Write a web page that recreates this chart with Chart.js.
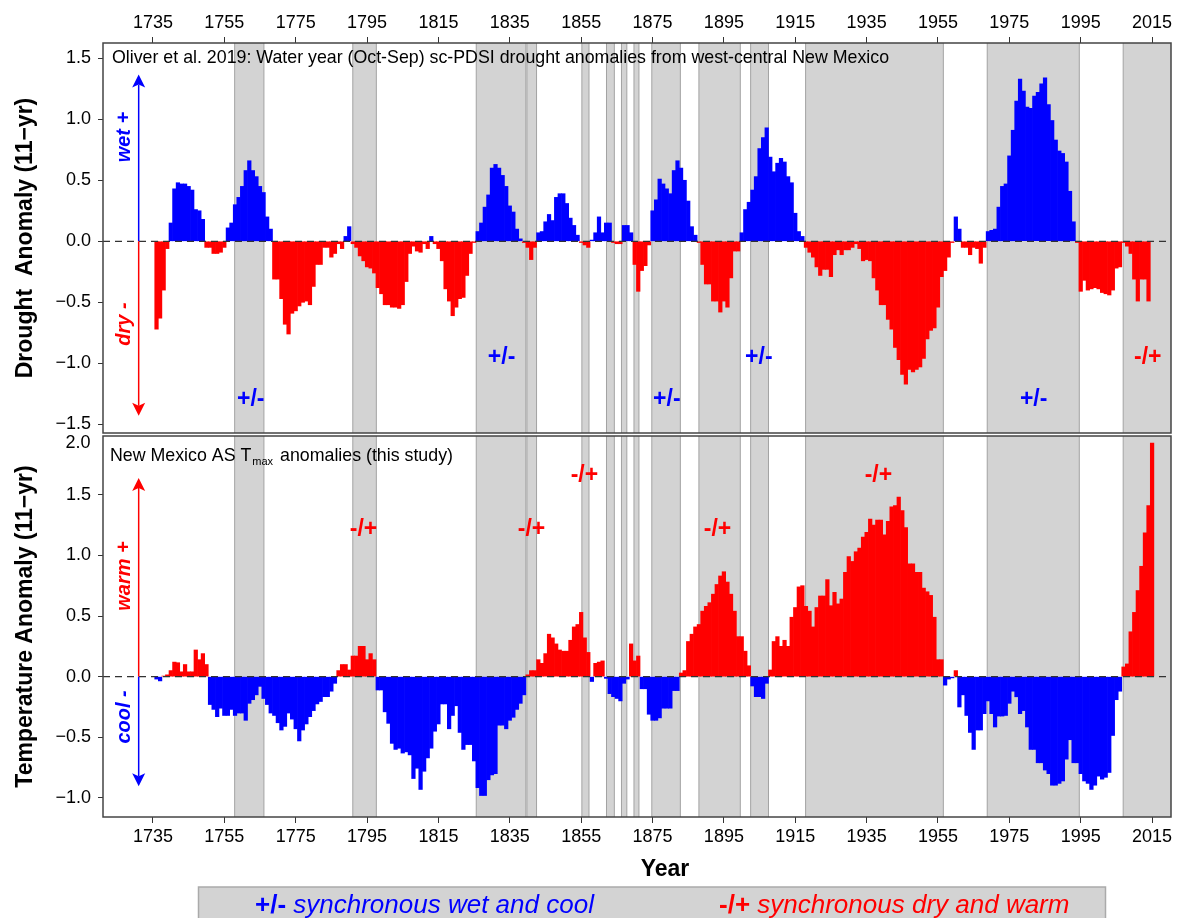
<!DOCTYPE html>
<html>
<head>
<meta charset="utf-8">
<title>New Mexico drought and temperature anomalies</title>
<script src="https://cdn.jsdelivr.net/npm/chart.js@4.4.1/dist/chart.umd.min.js"></script>
<style>
  html, body { margin: 0; padding: 0; background: #fff; }
  #wrap { position: relative; width: 1177px; height: 918px; overflow: hidden; }
  #wrap canvas { position: absolute; left: 0; }
  #topChart { top: 0; }
  #botChart { top: 434px; }
</style>
</head>
<body>
<div id="wrap">
  <canvas id="topChart" width="1177" height="434"></canvas>
  <canvas id="botChart" width="1177" height="484"></canvas>
</div>
<script>
// ==========================================
// 1. DATA
// ==========================================
const firstYear = 1736;

// 11-yr sc-PDSI anomalies, 1736-2014
const droughtValues = [
  -0.72, -0.63, -0.40, -0.06, 0.15, 0.43, 0.48, 0.47, 0.47, 0.45,
  0.42, 0.26, 0.25, 0.18, -0.05, -0.05, -0.10, -0.10, -0.09, -0.05,
  0.11, 0.15, 0.30, 0.36, 0.45, 0.58, 0.66, 0.58, 0.53, 0.45,
  0.40, 0.20, 0.10, -0.31, -0.31, -0.47, -0.68, -0.76, -0.59, -0.57,
  -0.53, -0.50, -0.49, -0.52, -0.37, -0.19, -0.19, -0.05, -0.05, -0.13,
  -0.10, -0.02, -0.06, 0.04, 0.12, -0.02, -0.05, -0.12, -0.16, -0.21,
  -0.22, -0.26, -0.38, -0.43, -0.52, -0.52, -0.54, -0.54, -0.55, -0.52,
  -0.33, -0.10, -0.04, -0.08, -0.09, -0.02, -0.06, 0.04, -0.02, -0.06,
  -0.16, -0.39, -0.49, -0.61, -0.54, -0.47, -0.46, -0.28, -0.10, -0.01,
  0.08, 0.15, 0.28, 0.38, 0.60, 0.63, 0.60, 0.54, 0.45, 0.29,
  0.24, 0.10, 0.02, -0.01, -0.05, -0.15, -0.05, 0.07, 0.08, 0.16,
  0.22, 0.17, 0.36, 0.39, 0.39, 0.31, 0.19, 0.13, 0.05, -0.01,
  -0.03, -0.05, 0.01, 0.07, 0.20, 0.07, 0.15, 0.15, -0.01, -0.02,
  -0.02, 0.13, 0.13, 0.07, -0.19, -0.41, -0.24, -0.20, -0.03, 0.25,
  0.34, 0.51, 0.47, 0.43, 0.39, 0.58, 0.66, 0.60, 0.50, 0.33,
  0.12, 0.05, -0.01, -0.19, -0.35, -0.35, -0.49, -0.49, -0.58, -0.49,
  -0.54, -0.30, -0.08, -0.08, 0.07, 0.26, 0.32, 0.42, 0.53, 0.76,
  0.85, 0.93, 0.69, 0.57, 0.64, 0.68, 0.65, 0.53, 0.48, 0.23,
  0.08, 0.04, -0.05, -0.09, -0.13, -0.21, -0.28, -0.23, -0.23, -0.29,
  -0.11, -0.07, -0.11, -0.07, -0.07, -0.05, -0.02, -0.06, -0.16, -0.15,
  -0.16, -0.30, -0.40, -0.52, -0.52, -0.64, -0.72, -0.87, -0.97, -1.09,
  -1.17, -1.05, -1.07, -1.05, -1.03, -0.96, -0.80, -0.73, -0.71, -0.54,
  -0.29, -0.24, -0.13, -0.01, 0.20, 0.10, -0.05, -0.05, -0.11, -0.05,
  -0.06, -0.18, -0.05, 0.08, 0.09, 0.10, 0.28, 0.45, 0.47, 0.70,
  0.91, 1.15, 1.33, 1.23, 1.10, 1.09, 1.19, 1.22, 1.29, 1.34,
  1.12, 0.99, 0.83, 0.74, 0.72, 0.65, 0.41, 0.16, -0.01, -0.41,
  -0.32, -0.40, -0.39, -0.38, -0.39, -0.42, -0.43, -0.44, -0.40, -0.22,
  -0.21, -0.01, -0.04, -0.10, -0.31, -0.49, -0.31, -0.31, -0.49
];

// 11-yr AS Tmax anomalies, 1736-2015
const tempValues = [
  -0.02, -0.035, 0.005, 0.015, 0.05, 0.12, 0.115, 0.04, 0.10, 0.04,
  0.04, 0.22, 0.14, 0.19, 0.10, -0.23, -0.27, -0.33, -0.26, -0.32,
  -0.32, -0.27, -0.32, -0.30, -0.30, -0.36, -0.22, -0.19, -0.15, -0.08,
  -0.18, -0.23, -0.30, -0.32, -0.38, -0.44, -0.41, -0.30, -0.35, -0.43,
  -0.53, -0.44, -0.39, -0.33, -0.28, -0.225, -0.205, -0.165, -0.165, -0.12,
  -0.055, 0.05, 0.10, 0.10, 0.055, 0.17, 0.17, 0.25, 0.25, 0.14,
  0.19, 0.14, -0.11, -0.11, -0.29, -0.385, -0.55, -0.60, -0.59, -0.63,
  -0.62, -0.645, -0.84, -0.755, -0.93, -0.78, -0.67, -0.59, -0.45, -0.39,
  -0.225, -0.225, -0.43, -0.32, -0.24, -0.46, -0.60, -0.56, -0.56, -0.695,
  -0.915, -0.98, -0.98, -0.85, -0.81, -0.80, -0.40, -0.40, -0.43, -0.36,
  -0.335, -0.27, -0.22, -0.15, 0.015, 0.05, 0.05, 0.14, 0.11, 0.19,
  0.35, 0.32, 0.27, 0.22, 0.21, 0.21, 0.30, 0.41, 0.43, 0.53,
  0.32, 0.20, -0.04, 0.11, 0.12, 0.13, -0.014, -0.14, -0.165, -0.18,
  -0.20, -0.055, -0.02, 0.27, 0.13, 0.17, -0.10, -0.10, -0.31, -0.36,
  -0.36, -0.34, -0.26, -0.26, -0.26, -0.115, -0.115, 0.03, 0.05, 0.29,
  0.35, 0.41, 0.43, 0.54, 0.58, 0.61, 0.68, 0.76, 0.83, 0.865,
  0.78, 0.68, 0.54, 0.33, 0.33, 0.21, 0.09, -0.077, -0.165, -0.165,
  -0.18, -0.055, 0.055, 0.29, 0.33, 0.25, 0.30, 0.25, 0.49, 0.57,
  0.74, 0.75, 0.58, 0.54, 0.41, 0.57, 0.665, 0.665, 0.80, 0.585,
  0.695, 0.60, 0.64, 0.86, 0.99, 0.95, 1.03, 1.06, 1.15, 1.19,
  1.30, 1.25, 1.29, 1.29, 1.17, 1.28, 1.40, 1.41, 1.48, 1.37,
  1.23, 0.93, 0.93, 0.86, 0.86, 0.73, 0.70, 0.67, 0.49, 0.14,
  0.14, -0.07, -0.02, -0.01, 0.05, -0.25, -0.15, -0.32, -0.46, -0.60,
  -0.44, -0.44, -0.305, -0.20, -0.305, -0.415, -0.325, -0.325, -0.32, -0.22,
  -0.12, -0.166, -0.305, -0.28, -0.415, -0.60, -0.60, -0.71, -0.71, -0.77,
  -0.80, -0.895, -0.895, -0.88, -0.86, -0.68, -0.52, -0.71, -0.71, -0.80,
  -0.86, -0.88, -0.93, -0.895, -0.82, -0.845, -0.83, -0.79, -0.485, -0.19,
  -0.12, 0.08, 0.105, 0.37, 0.53, 0.71, 0.91, 1.185, 1.41, 1.925
];

// synchronous periods (start year, end year)
const bandStarts = [1757.9, 1791.0, 1825.6, 1839.8, 1855.2, 1862.1, 1866.3, 1869.8, 1874.8, 1888.0, 1902.5, 1917.9, 1968.8, 2006.9];
const bandEnds   = [1766.1, 1797.6, 1839.5, 1842.5, 1857.2, 1864.3, 1867.8, 1871.2, 1882.8, 1899.6, 1907.5, 1956.5, 1994.6, 2021.0];

const yearTicks = [1735, 1755, 1775, 1795, 1815, 1835, 1855, 1875, 1895, 1915, 1935, 1955, 1975, 1995, 2015];
const droughtTicks = [-1.5, -1.0, -0.5, 0.0, 0.5, 1.0, 1.5];
const tempTicks = [-1.0, -0.5, 0.0, 0.5, 1.0, 1.5];

// period labels: year, anomaly value, text
const droughtNotes = [
  [1762.4, -1.30, '+/-'], [1832.7, -0.95, '+/-'], [1879.0, -1.30, '+/-'],
  [1904.8, -0.95, '+/-'], [1981.8, -1.30, '+/-'], [2013.8, -0.95, '-/+']
];
const tempNotes = [
  [1794.0, 1.21, '-/+'], [1841.1, 1.21, '-/+'], [1855.9, 1.655, '-/+'],
  [1893.2, 1.21, '-/+'], [1938.3, 1.655, '-/+']
];

// ==========================================
// 2. STYLE HELPERS
// ==========================================
const BLUE = '#0000ff';
const RED = '#ff0000';
const FONT = "'Liberation Sans', Arial, Helvetica, sans-serif";
Chart.defaults.font.family = FONT;
Chart.defaults.color = '#000';

const fmtTick = v => (v < 0 ? '\u2212' : '') + Math.abs(v).toFixed(1);

const bandPlugin = {
  id: 'bands',
  beforeDatasetsDraw(chart) {
    const { ctx, chartArea: a, scales: { x } } = chart;
    ctx.save();
    ctx.beginPath();
    ctx.rect(a.left, a.top, a.right - a.left, a.bottom - a.top);
    ctx.clip();
    bandStarts.forEach((s, i) => {
      const x0 = x.getPixelForValue(s);
      const x1 = x.getPixelForValue(bandEnds[i]);
      ctx.fillStyle = '#d3d3d3';
      ctx.fillRect(x0, a.top, x1 - x0, a.bottom - a.top);
      ctx.strokeStyle = '#a3a3a3';
      ctx.lineWidth = 1;
      ctx.beginPath();
      ctx.moveTo(x0, a.top); ctx.lineTo(x0, a.bottom);
      ctx.moveTo(x1, a.top); ctx.lineTo(x1, a.bottom);
      ctx.stroke();
    });
    ctx.restore();
  }
};

const zeroFramePlugin = {
  id: 'zeroFrame',
  afterDatasetsDraw(chart) {
    const { ctx, chartArea: a, scales: { y } } = chart;
    const y0 = y.getPixelForValue(0);
    ctx.save();
    ctx.strokeStyle = '#333';
    ctx.lineWidth = 1.3;
    ctx.setLineDash([7, 5]);
    ctx.beginPath();
    ctx.moveTo(a.left, y0); ctx.lineTo(a.right, y0);
    ctx.stroke();
    ctx.setLineDash([]);
    ctx.strokeStyle = '#444';
    ctx.lineWidth = 1.5;
    ctx.strokeRect(a.left, a.top, a.right - a.left, a.bottom - a.top);
    ctx.restore();
  }
};

function drawArrow(ctx, x, yFrom, yTo, color) {
  const dir = yTo < yFrom ? -1 : 1;
  ctx.strokeStyle = color;
  ctx.fillStyle = color;
  ctx.lineWidth = 1.5;
  ctx.beginPath();
  ctx.moveTo(x, yFrom); ctx.lineTo(x, yTo - dir * 10);
  ctx.stroke();
  ctx.beginPath();
  ctx.moveTo(x, yTo);
  ctx.lineTo(x - 6.5, yTo - dir * 13);
  ctx.lineTo(x, yTo - dir * 10);
  ctx.lineTo(x + 6.5, yTo - dir * 13);
  ctx.closePath();
  ctx.fill();
}

function drawVertical(ctx, text, x, y, color) {
  ctx.save();
  ctx.translate(x, y);
  ctx.rotate(-Math.PI / 2);
  ctx.fillStyle = color;
  ctx.font = 'italic bold 20px ' + FONT;
  ctx.textAlign = 'center';
  ctx.textBaseline = 'middle';
  ctx.fillText(text, 0, 0);
  ctx.restore();
}

function makeDecorPlugin(opts) {
  return {
    id: 'decor',
    afterDraw(chart) {
      const { ctx, scales: { x, y } } = chart;
      ctx.save();
      // direction arrows
      const ax = x.getPixelForValue(1731);
      const y0 = y.getPixelForValue(0);
      drawArrow(ctx, ax, y0, y.getPixelForValue(opts.upTo), opts.upColor);
      drawArrow(ctx, ax, y0, y.getPixelForValue(opts.downTo), opts.downColor);
      const tx = x.getPixelForValue(1727.1);
      drawVertical(ctx, opts.upText, tx, y.getPixelForValue(opts.upTextAt), opts.upColor);
      drawVertical(ctx, opts.downText, tx, y.getPixelForValue(opts.downTextAt), opts.downColor);

      // period labels
      ctx.font = 'bold 23px ' + FONT;
      ctx.textAlign = 'center';
      ctx.textBaseline = 'middle';
      opts.notes.forEach(([yr, v, t]) => {
        ctx.fillStyle = t === '+/-' ? BLUE : RED;
        ctx.fillText(t, x.getPixelForValue(yr), y.getPixelForValue(v));
      });

      opts.header(ctx, chart);
      ctx.restore();
    }
  };
}

const barDataset = (values, posColor, negColor) => ({
  data: values.map((v, i) => ({ x: firstYear + i, y: v })),
  backgroundColor: c => (c.raw && c.raw.y >= 0 ? posColor : negColor),
  borderWidth: 0,
  barPercentage: 1,
  categoryPercentage: 1
});

// scales keep fixed sizes and no label overhang padding
const xScale = (position, height) => ({
  type: 'linear',
  position,
  min: 1721,
  max: 2020.3,
  offset: false,
  afterBuildTicks: s => { s.ticks = yearTicks.map(v => ({ value: v })); },
  afterFit: s => { s.height = height; s.paddingLeft = 0; s.paddingRight = 0; },
  grid: { offset: false, drawOnChartArea: false, drawTicks: true, tickLength: 6, color: '#333', lineWidth: 1 },
  border: { display: false },
  ticks: { font: { size: 18 }, color: '#000', padding: 3, maxRotation: 0, autoSkip: false, callback: v => String(v) }
});

const yScale = (min, max, ticks, title) => ({
  min, max,
  afterBuildTicks: s => { s.ticks = ticks.map(v => ({ value: v })); },
  afterFit: s => { s.width = 103; s.paddingTop = 0; s.paddingBottom = 0; },
  grid: { drawOnChartArea: false, drawTicks: true, tickLength: 5, color: '#333', lineWidth: 1 },
  border: { display: false },
  ticks: { font: { size: 18 }, color: '#000', padding: 7, callback: fmtTick },
  title: { display: true, text: title, font: { size: 23, weight: 'bold' }, color: '#000', padding: { top: 12, bottom: 0 } }
});

// ==========================================
// 3. DROUGHT PANEL
// ==========================================
new Chart(document.getElementById('topChart'), {
  type: 'bar',
  data: { datasets: [barDataset(droughtValues, BLUE, RED)] },
  options: {
    responsive: false,
    animation: false,
    layout: { autoPadding: false, padding: { left: 0, right: 6, top: 0, bottom: 1 } },
    plugins: { legend: { display: false }, tooltip: { enabled: false } },
    scales: {
      x: xScale('top', 43),
      y: yScale(-1.571, 1.625, droughtTicks, 'Drought  Anomaly (11\u2212yr)')
    }
  },
  plugins: [bandPlugin, zeroFramePlugin, makeDecorPlugin({
    upTo: 1.366, downTo: -1.43, upColor: BLUE, downColor: RED,
    upText: 'wet +', downText: 'dry -', upTextAt: 0.854, downTextAt: -0.678,
    notes: droughtNotes,
    header(ctx) {
      ctx.fillStyle = '#000';
      ctx.font = '17.8px ' + FONT;
      ctx.textAlign = 'left';
      ctx.textBaseline = 'middle';
      ctx.fillText('Oliver et al. 2019: Water year (Oct-Sep) sc-PDSI drought anomalies from west-central New Mexico', 112, 58);
    }
  })]
});

// ==========================================
// 4. TEMPERATURE PANEL + LEGEND
// ==========================================
new Chart(document.getElementById('botChart'), {
  type: 'bar',
  data: { datasets: [barDataset(tempValues, RED, BLUE)] },
  options: {
    responsive: false,
    animation: false,
    layout: { autoPadding: false, padding: { left: 0, right: 6, top: 2, bottom: 31 } },
    plugins: { legend: { display: false }, tooltip: { enabled: false } },
    scales: {
      x: xScale('bottom', 70),
      y: yScale(-1.157, 1.984, tempTicks, 'Temperature Anomaly (11\u2212yr)')
    }
  },
  plugins: [bandPlugin, zeroFramePlugin, makeDecorPlugin({
    upTo: 1.638, downTo: -0.903, upColor: RED, downColor: BLUE,
    upText: 'warm +', downText: 'cool -', upTextAt: 0.83, downTextAt: -0.332,
    notes: tempNotes,
    header(ctx, chart) {
      ctx.fillStyle = '#000';
      ctx.textBaseline = 'alphabetic';
      ctx.textAlign = 'left';
      let px = 110;
      ctx.font = '17.8px ' + FONT;
      ctx.fillText('New Mexico AS T', px, 27);
      px += ctx.measureText('New Mexico AS T').width + 1;
      ctx.font = '11px ' + FONT;
      ctx.fillText('max', px, 31);
      px += ctx.measureText('max').width + 2;
      ctx.font = '17.8px ' + FONT;
      ctx.fillText(' anomalies (this study)', px, 27);

      // top tick label sits below the frame corner
      ctx.textAlign = 'right';
      ctx.textBaseline = 'middle';
      ctx.font = '18px ' + FONT;
      ctx.fillText('2.0', 90.5, 9);

      // x-axis title
      ctx.textAlign = 'center';
      ctx.font = 'bold 23px ' + FONT;
      ctx.fillText('Year', 665, 436);

      // legend box
      ctx.fillStyle = '#d3d3d3';
      ctx.fillRect(198.5, 453, 907, 40);
      ctx.strokeStyle = '#aaa';
      ctx.lineWidth = 1.5;
      ctx.strokeRect(198.5, 453, 907, 40);
      const item = (sym, text, x0, color) => {
        ctx.fillStyle = color;
        ctx.textAlign = 'left';
        ctx.textBaseline = 'alphabetic';
        ctx.font = 'bold 26px ' + FONT;
        ctx.fillText(sym, x0, 479);
        const w = ctx.measureText(sym + ' ').width;
        ctx.font = 'italic 26px ' + FONT;
        ctx.fillText(text, x0 + w, 479);
      };
      item('+/-', 'synchronous wet and cool', 255, BLUE);
      item('-/+', 'synchronous dry and warm', 719, RED);
    }
  })]
});
</script>
</body>
</html>
